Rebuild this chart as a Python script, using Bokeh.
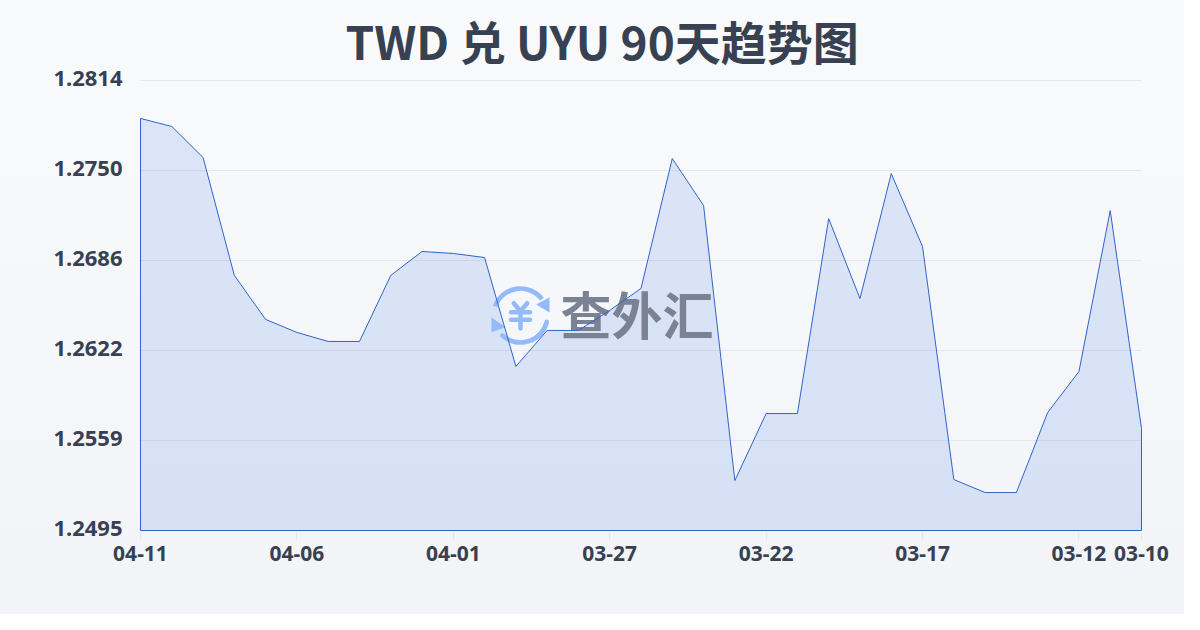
from bokeh.plotting import figure
from bokeh.models import Range1d, FixedTicker
from bokeh.core.properties import value
from bokeh.embed import file_html
from bokeh.resources import INLINE

dates = ["04-11","04-10","04-09","04-08","04-07","04-06","04-05","04-04","04-03","04-02","04-01",
         "03-31","03-30","03-29","03-28","03-27","03-26","03-25","03-24","03-23","03-22","03-21",
         "03-20","03-19","03-18","03-17","03-16","03-15","03-14","03-13","03-12","03-11","03-10"]
rates = [1.27871,1.27814,1.27594,1.26758,1.26446,1.26354,1.26290,1.26290,1.26758,1.26928,1.26914,
         1.26885,1.26113,1.26368,1.26368,1.26510,1.26666,1.27587,1.27254,1.25304,1.25779,1.25779,
         1.27161,1.26594,1.27480,1.26963,1.25311,1.25219,1.25219,1.25786,1.26077,1.27218,1.25673]
y_ticks = [1.28140,1.27502,1.26864,1.26226,1.25588,1.24950]
y_labels = ["1.2814","1.2750","1.2686","1.2622","1.2559","1.2495"]
x_tick_idx = [0,5,10,15,20,25,30,32]
title_text = "TWD 兑 UYU 90天趋势图"
LAT = '"Noto Sans", "Noto Sans CJK SC", sans-serif'

W, H = 1184, 614
X0, X1, Y0, Y1 = 140, 1141, 80, 530   # plot area (data extent) inside the figure
PAD = 2                                # frame is slightly larger so the outline is not clipped
PAD_TOP = 4                            # leaves room for the raised top y label
ux = (X1 - X0) / 32
uy = (y_ticks[0] - y_ticks[-1]) / (Y1 - Y0)

def wx(x): return (x - X0) / ux
def wy(y): return y_ticks[0] - (y - Y0) * uy

p = figure(width=W, height=H, output_backend="svg", toolbar_location=None,
           x_range=Range1d(wx(X0 - PAD), wx(X1 + PAD)), y_range=Range1d(wy(Y1 + PAD), wy(Y0 - PAD_TOP)),
           min_border_left=X0 - PAD, min_border_right=W - X1 - PAD,
           min_border_top=Y0 - PAD_TOP, min_border_bottom=H - Y1 - PAD,
           background_fill_color=None, border_fill_color=None,
           styles={"background": "linear-gradient(180deg,#f9fafc 0%,#f2f4f7 100%)"})
p.outline_line_color = None
p.grid.visible = False

p.title.text = title_text
p.title.align = "left"
p.title.offset = 345 - (X0 - PAD)
p.title.standoff = 8
p.title.text_font = '"Noto Sans CJK SC", sans-serif'
p.title.text_font_style = "bold"
p.title.text_font_size = "46px"
p.title.text_color = "#374151"

# horizontal grid lines across the data extent
p.segment(x0=[0] * len(y_ticks), x1=[32] * len(y_ticks), y0=y_ticks, y1=y_ticks,
          line_color="#e5e7eb", line_width=1, level="underlay")

# y labels sit about 2.5px above their grid line in the reference
label_ticks = [t + 2.5 * uy for t in y_ticks]
p.yaxis.ticker = FixedTicker(ticks=label_ticks)
p.yaxis.major_label_overrides = dict(zip(label_ticks, y_labels))
p.yaxis.axis_line_color = None
p.yaxis.major_tick_line_color = None
p.yaxis.minor_tick_line_color = None
p.yaxis.major_label_text_font = LAT
p.yaxis.major_label_text_font_style = "bold"
p.yaxis.major_label_text_font_size = "22px"
p.yaxis.major_label_text_color = "#374151"
p.yaxis.major_label_standoff = 10

p.xaxis.ticker = FixedTicker(ticks=x_tick_idx)
p.xaxis.major_label_overrides = {i: dates[i] for i in x_tick_idx}
p.xaxis.axis_line_color = None
p.xaxis.major_tick_line_color = "#e5e7eb"
p.xaxis.major_tick_out = 8
p.xaxis.major_tick_in = 0
p.xaxis.minor_tick_line_color = None
p.xaxis.major_label_text_font = LAT
p.xaxis.major_label_text_font_style = "bold"
p.xaxis.major_label_text_font_size = "21px"
p.xaxis.major_label_text_color = "#374151"
p.xaxis.major_label_standoff = 5

xs = list(range(len(rates)))
base = y_ticks[-1]
px = xs + [xs[-1], xs[0]]
py = rates + [base, base]

# filled area
p.patch(px, py, fill_color="#3b74e6", fill_alpha=0.15, line_color=None)

# watermark
ICON = "#93bbfb"
p.arc(x=[wx(520)], y=[wy(315)], radius=27, radius_units="screen", start_angle=0.65, end_angle=2.8,
      line_color=ICON, line_width=4.7)
p.arc(x=[wx(520)], y=[wy(315)], radius=27, radius_units="screen", start_angle=3.98, end_angle=6.04,
      line_color=ICON, line_width=4.7, line_cap="round")
p.patches(xs=[[wx(549), wx(549), wx(535.7)], [wx(491), wx(491), wx(505)]],
          ys=[[wy(296.7), wy(312), wy(304)], [wy(316.7), wy(331.7), wy(326.7)]],
          fill_color=ICON, line_color=None)
p.multi_line(xs=[[wx(513.3), wx(520), wx(526.7)], [wx(510.5), wx(529.5)], [wx(510.5), wx(529.5)], [wx(520), wx(520)]],
             ys=[[wy(302.7), wy(310.7), wy(302.7)], [wy(311.7), wy(311.7)], [wy(319.3), wy(319.3)], [wy(311), wy(328)]],
             line_color=ICON, line_width=4.5, line_cap="round", line_join="round")
p.text(x=[wx(560)], y=[wy(312)], text=["查外汇"], text_font=value('"Noto Sans CJK SC"'), text_font_style="bold",
       text_font_size="51px", text_color="#7a8294", text_align="left", text_baseline="middle")

# outline on top of the watermark
p.patch(px, py, fill_color=None, line_color="#2f64c9", line_width=1)

open("out.html", "w").write(file_html(p, INLINE))
